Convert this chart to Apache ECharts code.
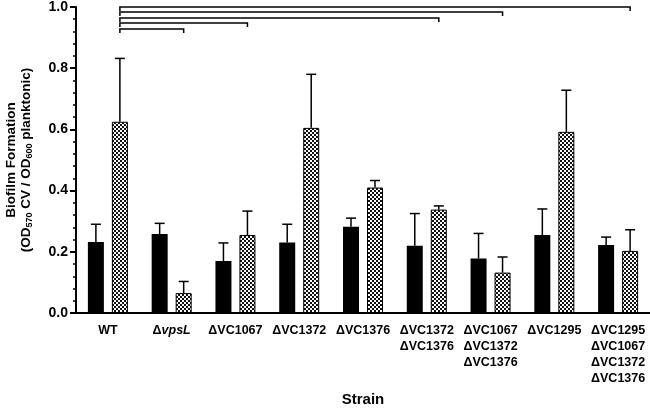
<!DOCTYPE html>
<html>
<head>
<meta charset="utf-8">
<script src="https://cdn.jsdelivr.net/npm/echarts@6/dist/echarts.min.js"></script>
<style>
  html, body { margin: 0; padding: 0; background: #fff; }
  #chart { width: 650px; height: 409px; }
</style>
</head>
<body>
<div id="chart"></div>
<script>
// strains on the x axis
const strains = [
  'WT',
  'ΔvpsL',
  'ΔVC1067',
  'ΔVC1372',
  'ΔVC1376',
  'ΔVC1372\nΔVC1376',
  'ΔVC1067\nΔVC1372\nΔVC1376',
  'ΔVC1295',
  'ΔVC1295\nΔVC1067\nΔVC1372\nΔVC1376'
]

// solid black bars and their error (upper bar only)
const solidMean = [0.232, 0.258, 0.170, 0.230, 0.282, 0.220, 0.178, 0.255, 0.222]
const solidSd = [0.058, 0.035, 0.059, 0.060, 0.028, 0.105, 0.082, 0.085, 0.026]

// checkered bars and their error
const checkMean = [0.625, 0.065, 0.255, 0.605, 0.410, 0.338, 0.132, 0.592, 0.203]
const checkSd = [0.207, 0.038, 0.078, 0.175, 0.023, 0.012, 0.051, 0.136, 0.069]

// significance brackets: WT checkered vs strain checkered, at these heights
const bracketTargets = [8, 6, 5, 2, 1]
const bracketLevels = [1.0, 0.984, 0.964, 0.948, 0.928]

const yTicks = [0, 0.2, 0.4, 0.6, 0.8, 1.0]

const FONT = 'Liberation Sans, Arial, sans-serif'
const BAR_W = 16
const GAP = 8
const OFFSET = (BAR_W + GAP) / 2

// checkerboard fill
function checkerPattern() {
  const c = document.createElement('canvas')
  c.width = 4
  c.height = 4
  const ctx = c.getContext('2d')
  ctx.fillStyle = '#fff'
  ctx.fillRect(0, 0, 4, 4)
  ctx.fillStyle = '#111'
  ctx.fillRect(0, 0, 2, 2)
  ctx.fillRect(2, 2, 2, 2)
  return c
}

function errorSeries(means, sds, side) {
  return {
    type: 'custom',
    z: 5,
    silent: true,
    data: means.map((m, i) => [i, m, m + sds[i]]),
    renderItem(params, api) {
      const x = api.coord([api.value(0), 0])[0] + side * OFFSET
      const yLo = api.coord([0, api.value(1)])[1]
      const yHi = api.coord([0, api.value(2)])[1]
      const style = { stroke: '#000', lineWidth: 1.5, fill: null }
      return {
        type: 'group',
        children: [
          { type: 'line', shape: { x1: x, y1: yLo, x2: x, y2: yHi }, style },
          { type: 'line', shape: { x1: x - 5, y1: yHi, x2: x + 5, y2: yHi }, style }
        ]
      }
    }
  }
}

const chart = echarts.init(document.getElementById('chart'), null, { renderer: 'canvas' })

const option = {
  animation: false,
  backgroundColor: '#fff',
  textStyle: { fontFamily: FONT },
  grid: { left: 76, right: 0, top: 7, bottom: 96, containLabel: false, outerBoundsMode: 'none' },
  xAxis: {
    type: 'category',
    data: strains,
    name: 'Strain',
    nameLocation: 'middle',
    nameGap: 78,
    nameTextStyle: { fontFamily: FONT, fontWeight: 'bold', fontSize: 15, color: '#000' },
    axisLine: { lineStyle: { color: '#000', width: 2 } },
    axisTick: { alignWithLabel: true, length: 5, lineStyle: { color: '#000', width: 1.5 } },
    axisLabel: {
      interval: 0,
      margin: 10,
      fontFamily: FONT,
      fontWeight: 'bold',
      fontSize: 12.5,
      lineHeight: 16,
      color: '#000',
      formatter(v) {
        return v.replace('vpsL', '{i|vpsL}')
      },
      rich: {
        i: { fontFamily: FONT, fontWeight: 'bold', fontStyle: 'italic', fontSize: 12.5, lineHeight: 16, color: '#000' }
      }
    }
  },
  yAxis: {
    type: 'value',
    min: 0,
    max: 1.0,
    interval: 0.2,
    name: '{t|Biofilm Formation}\n{t|(OD}{s|570}{t| CV / OD}{s|600}{t| planktonic)}',
    nameLocation: 'middle',
    nameGap: 42,
    nameRotate: 90,
    nameTextStyle: {
      rich: {
        t: { fontFamily: FONT, fontWeight: 'bold', fontSize: 13.5, lineHeight: 15, color: '#000' },
        s: { fontFamily: FONT, fontWeight: 'bold', fontSize: 9, lineHeight: 15, verticalAlign: 'bottom', color: '#000', padding: [6, 0, 0, 0] }
      }
    },
    axisLine: { show: true, lineStyle: { color: '#000', width: 2 } },
    axisTick: { show: true, length: 6, lineStyle: { color: '#000', width: 2 } },
    minorTick: { show: true, splitNumber: 5, length: 3, lineStyle: { color: '#000', width: 1.5 } },
    splitLine: { show: false },
    axisLabel: {
      margin: 8,
      fontFamily: FONT,
      fontWeight: 'bold',
      fontSize: 14,
      color: '#000',
      formatter: v => yTicks.some(t => Math.abs(t - v) < 1e-9) ? v.toFixed(1) : ''
    }
  },
  series: [
    {
      type: 'bar',
      data: solidMean,
      barWidth: BAR_W,
      barGap: (GAP / BAR_W * 100) + '%',
      itemStyle: { color: '#000' }
    },
    {
      type: 'bar',
      data: checkMean,
      barWidth: BAR_W,
      itemStyle: {
        color: { image: checkerPattern(), repeat: 'repeat' },
        borderColor: '#000',
        borderWidth: 1
      }
    },
    errorSeries(solidMean, solidSd, -1),
    errorSeries(checkMean, checkSd, 1),
    {
      type: 'custom',
      z: 6,
      silent: true,
      clip: false,
      data: bracketTargets.map((t, i) => [t, bracketLevels[i]]),
      renderItem(params, api) {
        const xL = api.coord([0, 0])[0] + OFFSET
        const xR = api.coord([api.value(0), 0])[0] + OFFSET
        const y = api.coord([0, api.value(1)])[1]
        return {
          type: 'polyline',
          shape: { points: [[xL, y + 4], [xL, y], [xR, y], [xR, y + 4]] },
          style: { stroke: '#000', lineWidth: 1.5, fill: null }
        }
      }
    }
  ]
}

chart.setOption(option)
</script>
</body>
</html>
